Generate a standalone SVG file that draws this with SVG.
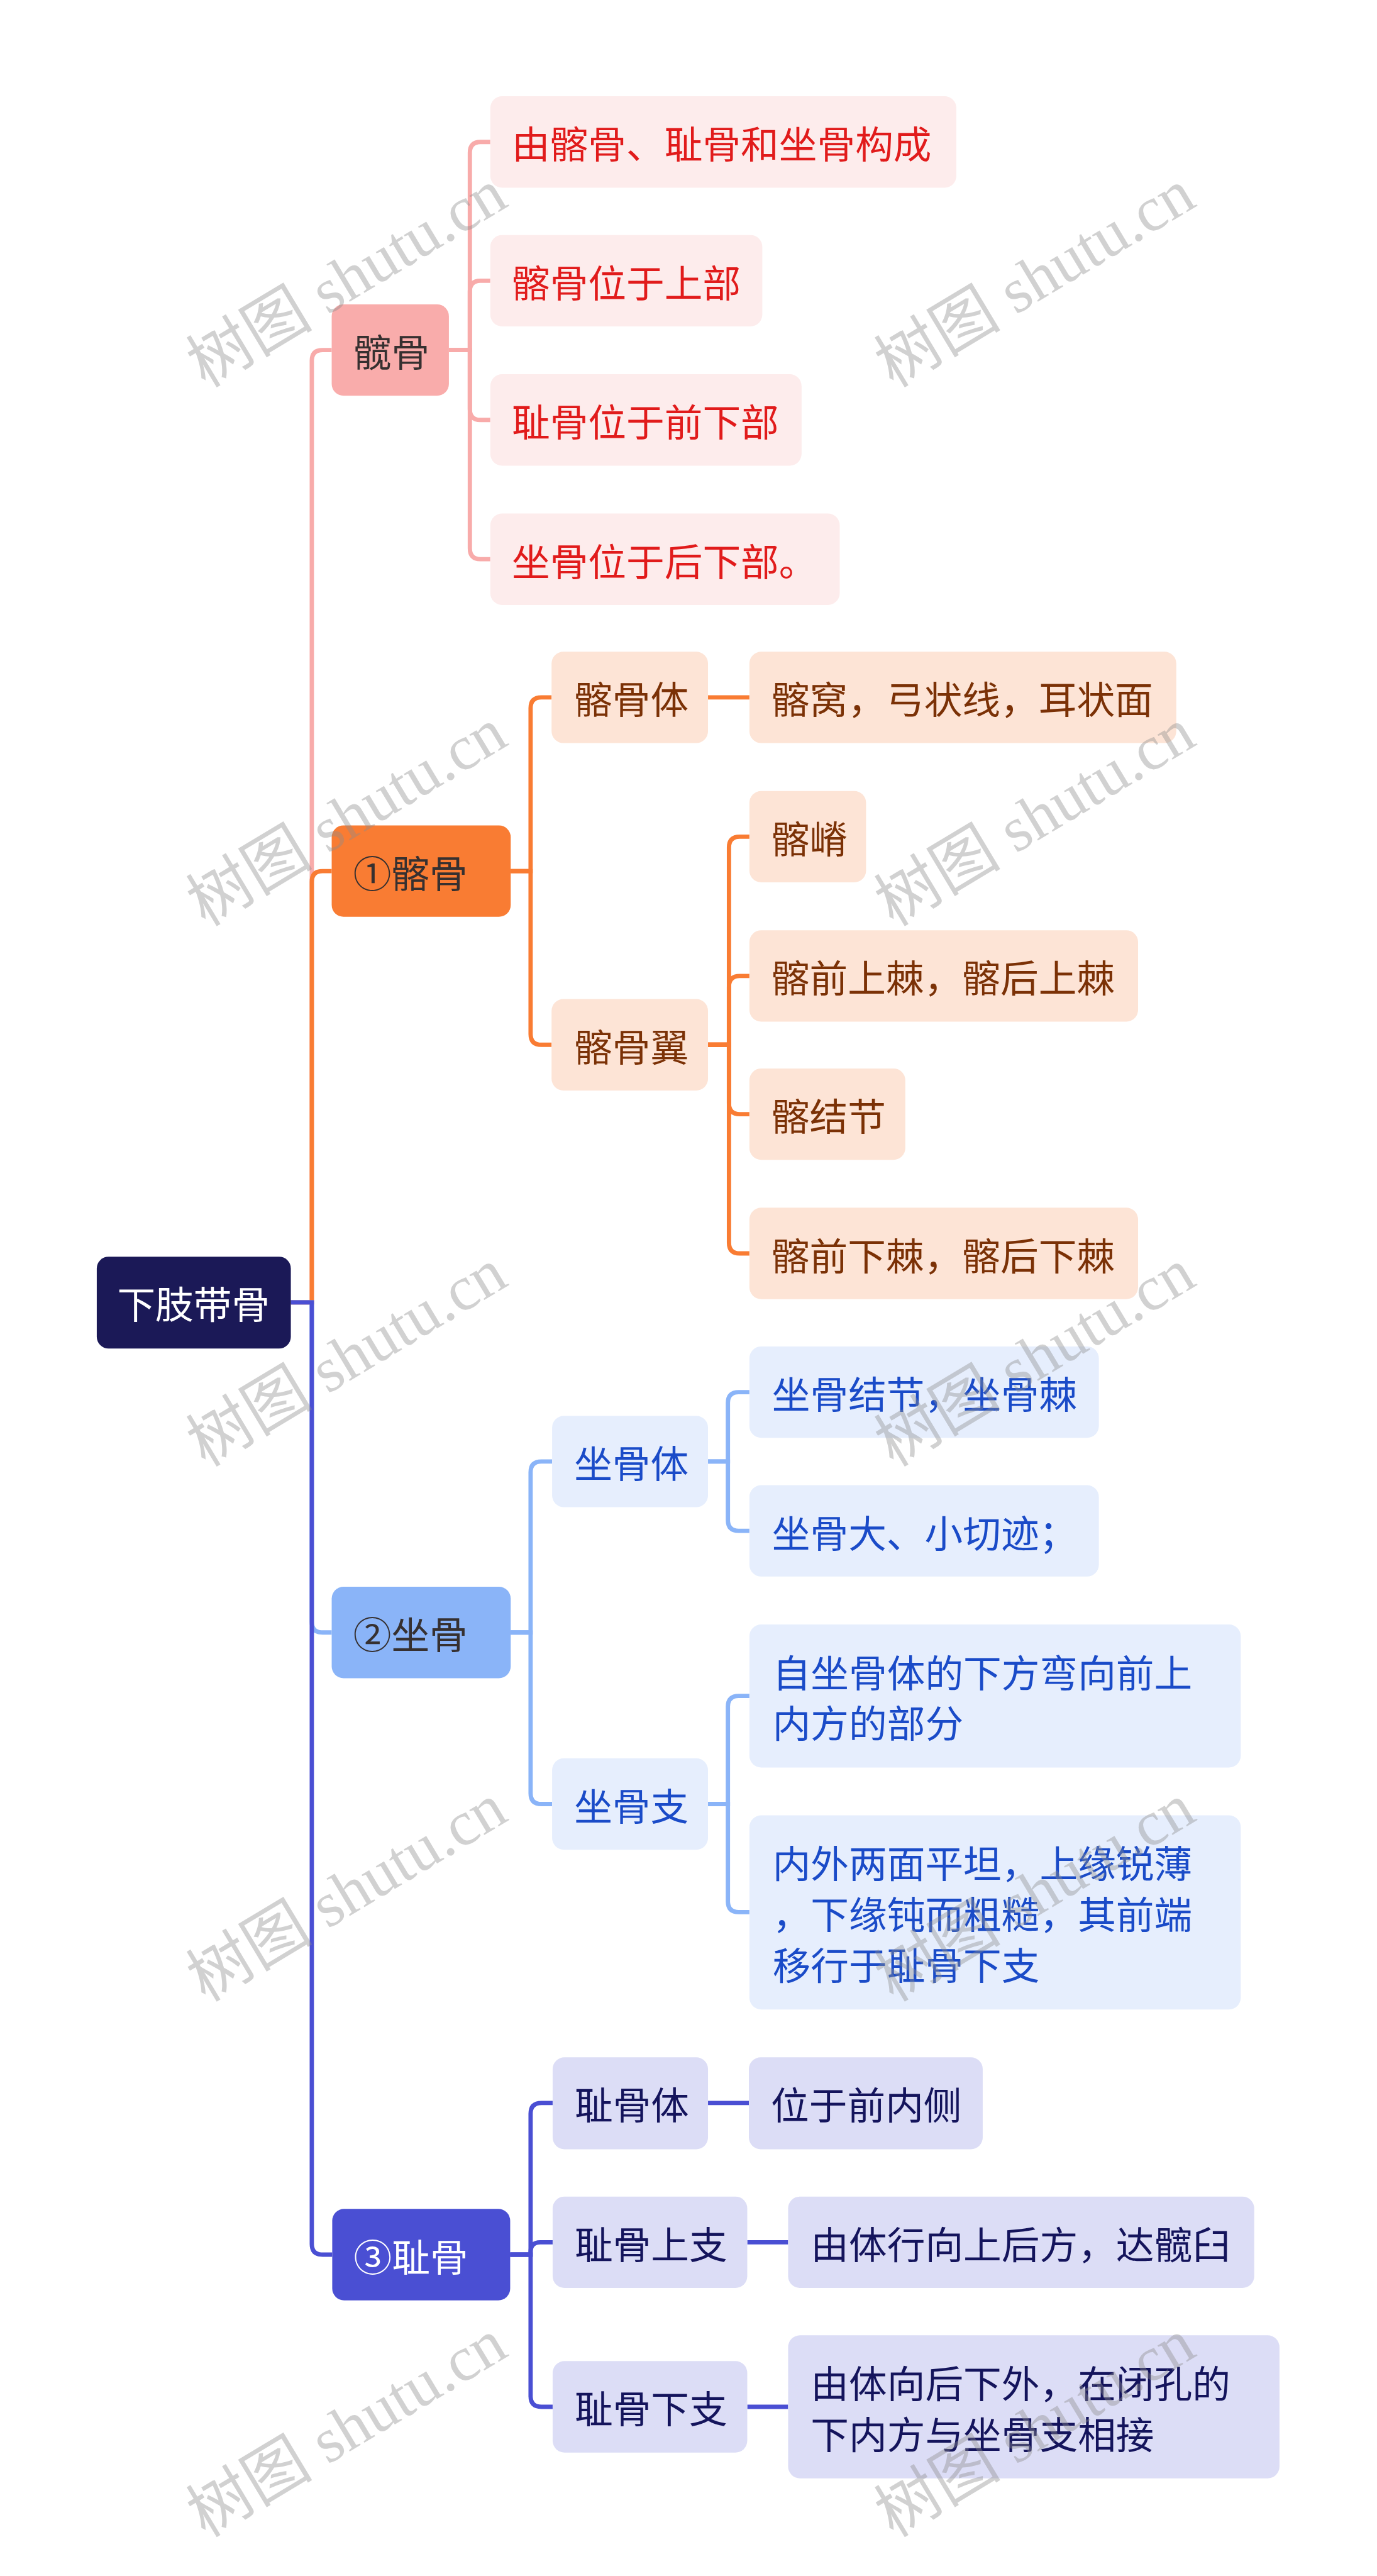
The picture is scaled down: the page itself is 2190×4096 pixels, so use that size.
<svg xmlns="http://www.w3.org/2000/svg" width="2190" height="4096" viewBox="0 0 2190 4096">
<style>
.t{font-family:"Noto Sans CJK SC","Noto Sans",sans-serif;font-size:71px;dominant-baseline:central}
.wm{font-family:"Liberation Serif","Noto Sans CJK SC",serif;font-size:118px;fill:#8c8c8c;fill-opacity:0.4;text-anchor:middle;dominant-baseline:central}
.c{fill:none;stroke-width:8}
.pk{stroke:#F8ABAA}.or{stroke:#F97C33}.lb{stroke:#8AB4F8}.db{stroke:#4A4FD3}
.n0{fill:#1B1957}.n1p{fill:#F9ACAB}.n1o{fill:#F97C33}.n1b{fill:#8AB4F8}.n1d{fill:#4A4FD3}
.lp{fill:#FDECEC}.lo{fill:#FDE4D6}.lbf{fill:#E6EEFD}.ld{fill:#DCDDF6}
.tw{fill:#ffffff}.tk{fill:#363030}.tr{fill:#E11B1B}.tbr{fill:#7B3106}.tbl{fill:#1A4BC8}.tn{fill:#14145C}
</style>
<rect width="2190" height="4096" fill="#ffffff"/>
<g transform="scale(0.855)">
<g id="connectors">
<path class="c pk" d="M541,2422 H580 V671 Q580,651 600,651 H617"/>
<path class="c or" d="M541,2422 H580 V1640 Q580,1620 600,1620 H617"/>
<path class="c lb" d="M541,2422 H580 V3016 Q580,3036 600,3036 H617"/>
<path class="c db" d="M541,2422 H580 V4173 Q580,4193 600,4193 H618"/>
<path class="c pk" d="M835,651 H874 V284 Q874,264 894,264 H912"/>
<path class="c pk" d="M835,651 H874 V542 Q874,522 894,522 H912"/>
<path class="c pk" d="M835,651 H874 V761 Q874,781 894,781 H912"/>
<path class="c pk" d="M835,651 H874 V1020 Q874,1040 894,1040 H912"/>
<path class="c or" d="M950,1620 H987 V1317 Q987,1297 1007,1297 H1026"/>
<path class="c or" d="M950,1620 H987 V1923 Q987,1943 1007,1943 H1026"/>
<path class="c or" d="M1317,1297 H1394"/>
<path class="c or" d="M1317,1943 H1356 V1576 Q1356,1556 1376,1556 H1394"/>
<path class="c or" d="M1317,1943 H1356 V1835 Q1356,1815 1376,1815 H1394"/>
<path class="c or" d="M1317,1943 H1356 V2052 Q1356,2072 1376,2072 H1394"/>
<path class="c or" d="M1317,1943 H1356 V2311 Q1356,2331 1376,2331 H1394"/>
<path class="c lb" d="M950,3036 H987 V2738 Q987,2718 1007,2718 H1027"/>
<path class="c lb" d="M950,3036 H987 V3335 Q987,3355 1007,3355 H1027"/>
<path class="c lb" d="M1317,2718 H1354 V2609 Q1354,2589 1374,2589 H1394"/>
<path class="c lb" d="M1317,2718 H1354 V2827 Q1354,2847 1374,2847 H1394"/>
<path class="c lb" d="M1317,3355 H1354 V3174 Q1354,3154 1374,3154 H1394"/>
<path class="c lb" d="M1317,3355 H1354 V3536 Q1354,3556 1374,3556 H1394"/>
<path class="c db" d="M949,4193 H987 V3931 Q987,3911 1007,3911 H1028"/>
<path class="c db" d="M949,4193 H987 V4188 Q987,4170 1005,4170 H1028"/>
<path class="c db" d="M949,4193 H987 V4456 Q987,4476 1007,4476 H1028"/>
<path class="c db" d="M1317,3911 H1393"/>
<path class="c db" d="M1390,4170 H1466"/>
<path class="c db" d="M1390,4476 H1466"/>
</g>
<g id="root"><rect class="n0" x="180" y="2337" width="361" height="171" rx="22"/><text class="t tw" x="218" y="2422">下肢带骨</text></g>
<g id="n-kuangu"><rect class="n1p" x="617" y="566" width="218" height="170" rx="22"/><text class="t tk" x="657" y="651">髋骨</text></g>
<g id="n-kuangu-1"><rect class="lp" x="912" y="179" width="867" height="170" rx="22"/><text class="t tr" x="952" y="264">由髂骨、耻骨和坐骨构成</text></g>
<g id="n-kuangu-2"><rect class="lp" x="912" y="437" width="506" height="170" rx="22"/><text class="t tr" x="952" y="522">髂骨位于上部</text></g>
<g id="n-kuangu-3"><rect class="lp" x="912" y="696" width="579" height="170" rx="22"/><text class="t tr" x="952" y="781">耻骨位于前下部</text></g>
<g id="n-kuangu-4"><rect class="lp" x="912" y="955" width="650" height="170" rx="22"/><text class="t tr" x="952" y="1040">坐骨位于后下部。</text></g>
<g id="n-qiagu"><rect class="n1o" x="617" y="1535" width="333" height="170" rx="22"/><text class="t tk" x="657" y="1620">①髂骨</text></g>
<g id="n-qiagu-ti"><rect class="lo" x="1026" y="1212" width="291" height="170" rx="22"/><text class="t tbr" x="1068" y="1297">髂骨体</text></g>
<g id="n-qiagu-ti-1"><rect class="lo" x="1394" y="1212" width="794" height="170" rx="22"/><text class="t tbr" x="1435" y="1297">髂窝，弓状线，耳状面</text></g>
<g id="n-qiagu-yi"><rect class="lo" x="1026" y="1858" width="291" height="170" rx="22"/><text class="t tbr" x="1068" y="1943">髂骨翼</text></g>
<g id="n-qiagu-yi-1"><rect class="lo" x="1394" y="1471" width="217" height="170" rx="22"/><text class="t tbr" x="1435" y="1556">髂嵴</text></g>
<g id="n-qiagu-yi-2"><rect class="lo" x="1394" y="1730" width="723" height="170" rx="22"/><text class="t tbr" x="1435" y="1815">髂前上棘，髂后上棘</text></g>
<g id="n-qiagu-yi-3"><rect class="lo" x="1394" y="1987" width="290" height="170" rx="22"/><text class="t tbr" x="1435" y="2072">髂结节</text></g>
<g id="n-qiagu-yi-4"><rect class="lo" x="1394" y="2246" width="723" height="170" rx="22"/><text class="t tbr" x="1435" y="2331">髂前下棘，髂后下棘</text></g>
<g id="n-zuogu"><rect class="n1b" x="617" y="2951" width="333" height="170" rx="22"/><text class="t tk" x="657" y="3036">②坐骨</text></g>
<g id="n-zuogu-ti"><rect class="lbf" x="1027" y="2633" width="290" height="170" rx="22"/><text class="t tbl" x="1068" y="2718">坐骨体</text></g>
<g id="n-zuogu-ti-1"><rect class="lbf" x="1394" y="2504" width="650" height="170" rx="22"/><text class="t tbl" x="1436" y="2589">坐骨结节，坐骨棘</text></g>
<g id="n-zuogu-ti-2"><rect class="lbf" x="1394" y="2762" width="650" height="170" rx="22"/><text class="t tbl" x="1436" y="2847">坐骨大、小切迹；</text></g>
<g id="n-zuogu-zhi"><rect class="lbf" x="1027" y="3270" width="290" height="170" rx="22"/><text class="t tbl" x="1068" y="3355">坐骨支</text></g>
<g id="n-zuogu-zhi-1"><rect class="lbf" x="1394" y="3021" width="914" height="266" rx="22"/><text class="t tbl" x="1437" y="3107">自坐骨体的下方弯向前上</text><text class="t tbl" x="1437" y="3201">内方的部分</text></g>
<g id="n-zuogu-zhi-2"><rect class="lbf" x="1394" y="3376" width="914" height="361" rx="22"/><text class="t tbl" x="1437" y="3461">内外两面平坦，上缘锐薄</text><text class="t tbl" x="1437" y="3556">，下缘钝而粗糙，其前端</text><text class="t tbl" x="1437" y="3651">移行于耻骨下支</text></g>
<g id="n-chigu"><rect class="n1d" x="618" y="4108" width="331" height="170" rx="22"/><text class="t tw" x="658" y="4193">③耻骨</text></g>
<g id="n-chigu-ti"><rect class="ld" x="1028" y="3826" width="289" height="171" rx="22"/><text class="t tn" x="1069" y="3911">耻骨体</text></g>
<g id="n-chigu-ti-1"><rect class="ld" x="1393" y="3826" width="435" height="171" rx="22"/><text class="t tn" x="1434" y="3911">位于前内侧</text></g>
<g id="n-chigu-sz"><rect class="ld" x="1028" y="4085" width="362" height="170" rx="22"/><text class="t tn" x="1069" y="4170">耻骨上支</text></g>
<g id="n-chigu-sz-1"><rect class="ld" x="1466" y="4085" width="867" height="170" rx="22"/><text class="t tn" x="1508" y="4170">由体行向上后方，达髋臼</text></g>
<g id="n-chigu-xz"><rect class="ld" x="1028" y="4391" width="362" height="170" rx="22"/><text class="t tn" x="1069" y="4476">耻骨下支</text></g>
<g id="n-chigu-xz-1"><rect class="ld" x="1466" y="4343" width="914" height="266" rx="22"/><text class="t tn" x="1508" y="4429">由体向后下外，在闭孔的</text><text class="t tn" x="1508" y="4523">下内方与坐骨支相接</text></g>
<g id="watermarks">
<text class="wm" transform="translate(645,518) rotate(-31)">树图 shutu.cn</text>
<text class="wm" transform="translate(1925,518) rotate(-31)">树图 shutu.cn</text>
<text class="wm" transform="translate(645,1520) rotate(-31)">树图 shutu.cn</text>
<text class="wm" transform="translate(1925,1520) rotate(-31)">树图 shutu.cn</text>
<text class="wm" transform="translate(645,2525) rotate(-31)">树图 shutu.cn</text>
<text class="wm" transform="translate(1925,2525) rotate(-31)">树图 shutu.cn</text>
<text class="wm" transform="translate(645,3520) rotate(-31)">树图 shutu.cn</text>
<text class="wm" transform="translate(1925,3520) rotate(-31)">树图 shutu.cn</text>
<text class="wm" transform="translate(645,4516) rotate(-31)">树图 shutu.cn</text>
<text class="wm" transform="translate(1925,4516) rotate(-31)">树图 shutu.cn</text>
</g>
</g>
</svg>
